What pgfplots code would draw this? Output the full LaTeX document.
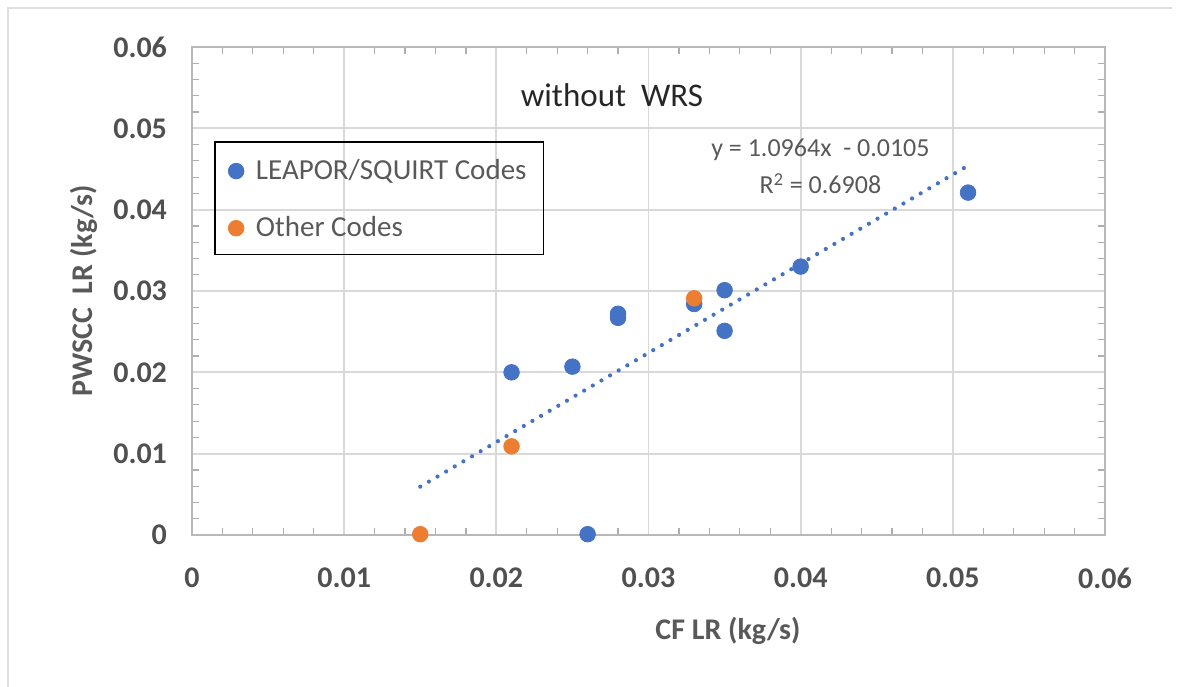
\documentclass[border=0pt]{standalone}
\usepackage{pgfplots}
\pgfplotsset{compat=1.18}
\usepackage{fontspec}
\setmainfont{Carlito}
\definecolor{xblue}{HTML}{4472C4}
\definecolor{xorange}{HTML}{ED7D31}
\definecolor{txtgray}{HTML}{595959}
\definecolor{gridgray}{HTML}{D9D9D9}
\begin{document}
\begin{tikzpicture}
\path[use as bounding box] (0,0) rectangle (590.5pt,343pt);
\draw[gray!25, line width=0.8pt] (4pt,-2pt) -- (4pt,339pt) -- (586pt,339pt);
\begin{axis}[
  at={(96pt,75.5pt)}, anchor=south west,
  width=456.5pt, height=244pt, scale only axis,
  xmin=0, xmax=0.06, ymin=0, ymax=0.06,
  xtick={0,0.01,...,0.06}, ytick={0,0.01,...,0.06},
  minor tick num=4,
  xticklabels={0,0.01,0.02,0.03,0.04,0.05,0.06},
  yticklabels={0,0.01,0.02,0.03,0.04,0.05,0.06},
  scaled ticks=false,
  major tick length=0pt, minor tick length=3.5pt,
  tick align=inside,
  minor tick style={gridgray!80!black, line width=0.6pt},
  grid=major,
  major grid style={gridgray, line width=0.9pt},
  axis line style={gridgray!85!black, line width=0.9pt},
  ticklabel style={font=\fontsize{15}{18}\selectfont\bfseries, text=txtgray!90!black},
  xticklabel style={yshift=-13pt},
  yticklabel style={xshift=-9pt},
  xlabel={CF LR (kg/s)},
  ylabel={PWSCC\ \ LR (kg/s)},
  label style={font=\fontsize{15}{18}\selectfont\bfseries, text=txtgray},
  xlabel style={at={(axis description cs:0.587,0)}, anchor=center, yshift=-48pt},
  ylabel style={at={(axis description cs:-0.118,0.5)}, anchor=center},
  legend style={draw=none, fill=none, at={(axis cs:0.0021,0.0472)}, anchor=north west,
    font=\fontsize{14.5}{17}\selectfont, text=txtgray, row sep=13pt, inner sep=2pt,
    /tikz/every odd column/.append style={column sep=4pt}},
  legend cell align=left,
  clip=false,
]
\draw[black, line width=0.9pt] (axis cs:0.0015,0.0483) rectangle (axis cs:0.0231,0.0345);
\addplot[only marks, mark=*, mark size=3.9pt, color=xblue, mark options={fill=xblue, draw=xblue}]
  coordinates {(0.021,0.0200) (0.025,0.0207) (0.028,0.0272) (0.028,0.0267) (0.033,0.0284)
  (0.035,0.0301) (0.035,0.0251) (0.040,0.0330) (0.051,0.0421) (0.026,0.0001)};
\addlegendentry{LEAPOR/SQUIRT Codes}
\addplot[only marks, mark=*, mark size=3.9pt, color=xorange, mark options={fill=xorange, draw=xorange}]
  coordinates {(0.015,0.0001) (0.021,0.0109) (0.033,0.0291)};
\addlegendentry{Other Codes}
\addplot[xblue, line width=2.1pt, line cap=round, dash pattern=on 0pt off 5pt, forget plot]
  coordinates {(0.015,0.005946) (0.051,0.045416)};
\node[font=\fontsize{16.5}{19}\selectfont, text=black!85] at (axis cs:0.0276,0.0541) {without\ \ WRS};
\node[font=\fontsize{13}{16}\selectfont, text=txtgray, align=center] at (axis cs:0.0413,0.0473)
  {y = 1.0964x\ \ - 0.0105};
\node[font=\fontsize{13}{16}\selectfont, text=txtgray] at (axis cs:0.0413,0.0432)
  {R\textsuperscript{2} = 0.6908};
\end{axis}
\end{tikzpicture}
\end{document}
